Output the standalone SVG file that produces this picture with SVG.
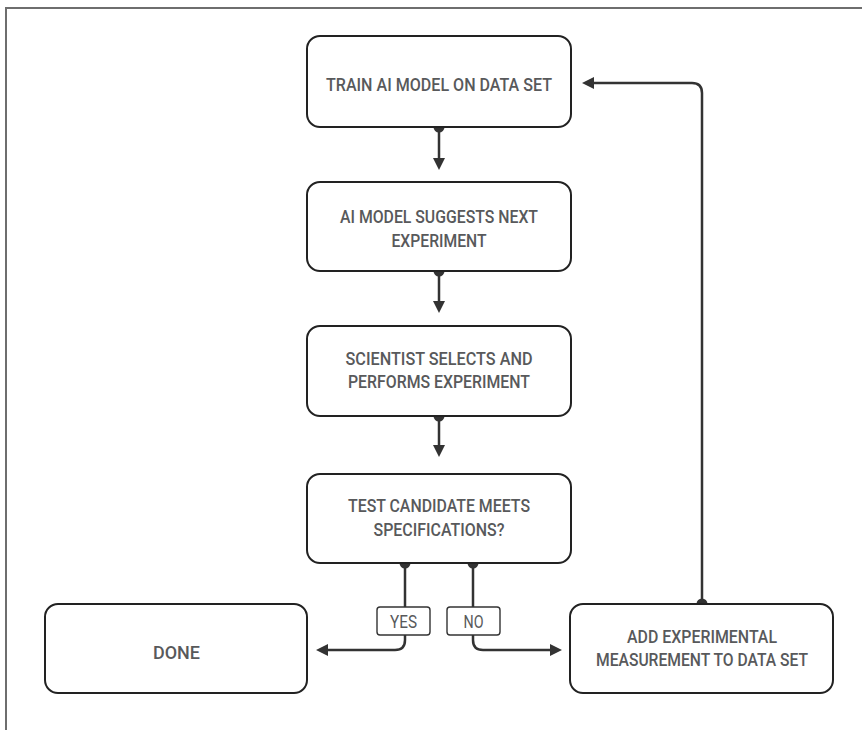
<svg xmlns="http://www.w3.org/2000/svg" width="862" height="730" viewBox="0 0 862 730">
<defs>
<style>
.box{fill:#fff;stroke:#222;stroke-width:2}
.t{font-family:Roboto,"Liberation Sans",sans-serif;font-weight:500;font-size:19px;fill:#58595b;text-anchor:middle}
.lbl{fill:#fff;stroke:#333;stroke-width:1.4}
.lt{font-family:Roboto,"Liberation Sans",sans-serif;font-weight:400;font-size:18px;fill:#58595b;text-anchor:middle}
.c{fill:none;stroke:#333;stroke-width:2.5}
.dot{fill:#333}
</style>
<marker id="ah" viewBox="0 0 12 12" refX="0" refY="6" markerWidth="12" markerHeight="12" markerUnits="userSpaceOnUse" orient="auto">
<path d="M0,0 L12,6 L0,12 z" fill="#333"/>
</marker>
</defs>
<rect width="862" height="730" fill="#fff"/>
<path d="M6 730 V8 H862" fill="none" stroke="#6e6e6e" stroke-width="2"/>

<g id="connectors">
<path class="c" d="M439 127 V158" marker-end="url(#ah)"/>
<path class="c" d="M439 271 V301" marker-end="url(#ah)"/>
<path class="c" d="M439 416 V445" marker-end="url(#ah)"/>
<path class="c" d="M405 563 V607"/>
<path class="c" d="M405 635 V640 Q405 650 395 650 H328" marker-end="url(#ah)"/>
<path class="c" d="M473 563 V607"/>
<path class="c" d="M473 635 V640 Q473 650 483 650 H550" marker-end="url(#ah)"/>
<path class="c" d="M702 604 V93 Q702 83 692 83 H594" marker-end="url(#ah)"/>
<circle class="dot" cx="439" cy="127" r="5.5"/>
<circle class="dot" cx="439" cy="271" r="5.5"/>
<circle class="dot" cx="439" cy="416" r="5.5"/>
<circle class="dot" cx="405" cy="563" r="5.5"/>
<circle class="dot" cx="473" cy="563" r="5.5"/>
<circle class="dot" cx="702" cy="604" r="5.5"/>
<g id="label-yes">
<rect class="lbl" x="377" y="607" width="53" height="28" rx="3"/>
<text class="lt" x="403.5" y="628" textLength="27" lengthAdjust="spacingAndGlyphs">YES</text>
</g>
<g id="label-no">
<rect class="lbl" x="447" y="607" width="53" height="28" rx="3"/>
<text class="lt" x="473.5" y="628" textLength="20" lengthAdjust="spacingAndGlyphs">NO</text>
</g>
</g>

<g id="train">
<rect class="box" x="307" y="36" width="264" height="91" rx="13"/>
<text class="t" x="439" y="91" textLength="226" lengthAdjust="spacingAndGlyphs">TRAIN AI MODEL ON DATA SET</text>
</g>
<g id="suggest">
<rect class="box" x="307" y="182" width="264" height="89" rx="13"/>
<text class="t" x="439" y="223" textLength="198" lengthAdjust="spacingAndGlyphs">AI MODEL SUGGESTS NEXT</text>
<text class="t" x="439" y="247" textLength="95" lengthAdjust="spacingAndGlyphs">EXPERIMENT</text>
</g>
<g id="perform">
<rect class="box" x="307" y="326" width="264" height="90" rx="13"/>
<text class="t" x="439" y="365" textLength="187" lengthAdjust="spacingAndGlyphs">SCIENTIST SELECTS AND</text>
<text class="t" x="439" y="388" textLength="182" lengthAdjust="spacingAndGlyphs">PERFORMS EXPERIMENT</text>
</g>
<g id="test">
<rect class="box" x="307" y="474" width="264" height="89" rx="13"/>
<text class="t" x="439" y="512" textLength="182" lengthAdjust="spacingAndGlyphs">TEST CANDIDATE MEETS</text>
<text class="t" x="439" y="535.5" textLength="131" lengthAdjust="spacingAndGlyphs">SPECIFICATIONS?</text>
</g>
<g id="done">
<rect class="box" x="45" y="604" width="262" height="89" rx="13"/>
<text class="t" x="176.5" y="659" textLength="47" lengthAdjust="spacingAndGlyphs">DONE</text>
</g>
<g id="add">
<rect class="box" x="570" y="604" width="263" height="89" rx="13"/>
<text class="t" x="702" y="643" textLength="150" lengthAdjust="spacingAndGlyphs">ADD EXPERIMENTAL</text>
<text class="t" x="702" y="666" textLength="212" lengthAdjust="spacingAndGlyphs">MEASUREMENT TO DATA SET</text>
</g>
</svg>
